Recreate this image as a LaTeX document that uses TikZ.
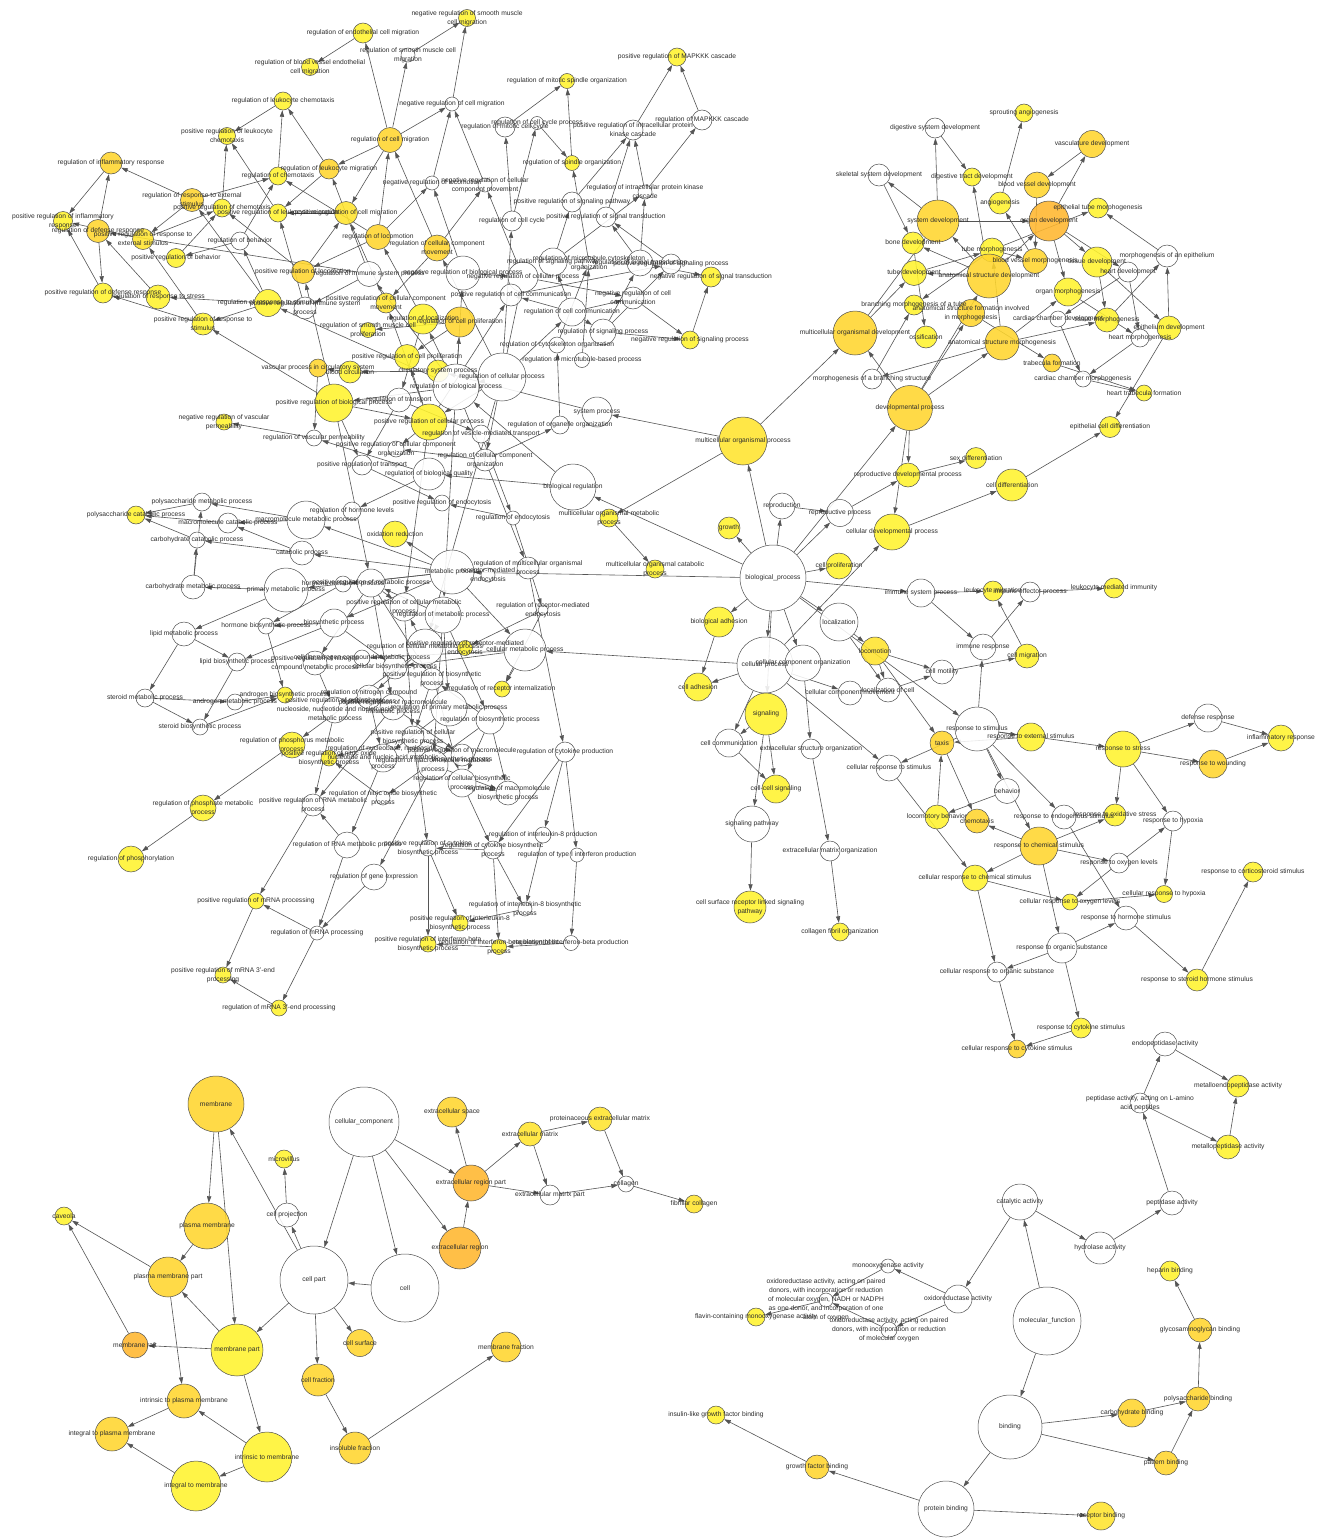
\documentclass[tikz,border=0pt]{standalone}
\usepackage{fontspec}
\setmainfont{Liberation Sans}
\usetikzlibrary{arrows.meta}
\pgfdeclarelayer{background}
\pgfdeclarelayer{fg}
\pgfsetlayers{background,main,fg}
\definecolor{yl1}{RGB}{255,243,46}
\definecolor{yl2}{RGB}{255,228,46}
\definecolor{yl3}{RGB}{255,214,46}
\definecolor{yl4}{RGB}{255,183,46}
\definecolor{wh}{RGB}{255,255,255}
\definecolor{edgec}{RGB}{85,85,85}
\definecolor{labc}{RGB}{45,45,45}
\definecolor{bordc}{RGB}{80,80,80}
\tikzset{
  gnode/.style={circle,draw=bordc,line width=0.5pt,inner sep=0pt,fill opacity=0.88},
  glab/.style={font=\fontsize{6.7}{9}\selectfont,text=labc,align=center,inner sep=0pt},
  edge/.style={draw=edgec,line width=0.6pt,-{Triangle[length=6.5pt,width=4.2pt]}}
}
\makeatletter
\newcommand\alllabels{}
\newcommand\addlab[1]{\g@addto@macro\alllabels{#1}}
\makeatother
\newcommand\gn[6]{\node[gnode,minimum size=#4pt,fill=#5] (#1) at (#2,#3) {};
  \addlab{\node[glab] at (#2,#3) {#6};}}
\begin{document}
\begin{tikzpicture}[x=1pt,y=-1pt]
\useasboundingbox (0,0) rectangle (1325,1539);
% ---------- cellular component
\gn{membrane}{216}{1104}{56}{yl3}{membrane}
\gn{cellcomp}{364}{1122}{70}{wh}{cellular\_component}
\gn{exspace}{452}{1112}{30}{yl3}{extracellular space}
\gn{exmatrix}{530}{1134}{24}{yl2}{extracellular matrix}
\gn{protexm}{600}{1119}{24}{yl2}{proteinaceous extracellular matrix}
\gn{microvillus}{284}{1159}{18}{yl1}{microvillus}
\gn{exregpart}{471}{1183}{36}{yl4}{extracellular region part}
\gn{exmpart}{550}{1195}{20}{wh}{extracellular matrix part}
\gn{collagen}{626}{1184}{16}{wh}{collagen}
\gn{fibcoll}{694}{1204}{18}{yl2}{fibrillar collagen}
\gn{caveola}{64}{1216}{18}{yl1}{caveola}
\gn{plasmamem}{207}{1226}{46}{yl3}{plasma membrane}
\gn{cellproj}{287}{1215}{24}{wh}{cell projection}
\gn{exregion}{460}{1248}{42}{yl4}{extracellular region}
\gn{pmpart}{168}{1277}{40}{yl3}{plasma membrane part}
\gn{cellpart}{314}{1280}{68}{wh}{cell part}
\gn{cell}{405}{1288}{68}{wh}{cell}
\gn{memraft}{135}{1345}{26}{yl4}{membrane raft}
\gn{mempart}{237}{1350}{52}{yl1}{membrane part}
\gn{cellsurf}{360}{1343}{27}{yl3}{cell surface}
\gn{memfrac}{506}{1347}{30}{yl3}{membrane fraction}
\gn{cellfrac}{318}{1380}{32}{yl3}{cell fraction}
\gn{intrpm}{184}{1401}{34}{yl3}{intrinsic to plasma membrane}
\gn{integpm}{112}{1434}{34}{yl3}{integral to plasma membrane}
\gn{intrmem}{267}{1457}{50}{yl1}{intrinsic to membrane}
\gn{insolfrac}{355}{1448}{32}{yl3}{insoluble fraction}
\gn{integmem}{196}{1486}{50}{yl1}{integral to membrane}
% ---------- molecular function
\gn{endopep}{1165}{1044}{24}{wh}{endopeptidase activity}
\gn{metalloendo}{1238}{1086}{22}{yl1}{metalloendopeptidase activity}
\gn{pepL}{1140}{1103}{20}{wh}{peptidase activity, acting on L-amino\\acid peptides}
\gn{metallopep}{1228}{1147}{24}{yl1}{metallopeptidase activity}
\gn{catalytic}{1020}{1202}{36}{wh}{catalytic activity}
\gn{peptidase}{1172}{1203}{24}{wh}{peptidase activity}
\gn{hydrolase}{1100}{1248}{32}{wh}{hydrolase activity}
\gn{monoox}{888}{1266}{14}{wh}{monooxygenase activity}
\gn{oxido}{958}{1299}{28}{wh}{oxidoreductase activity}
\gn{oxNADH}{826}{1300}{14}{wh}{oxidoreductase activity, acting on paired\\donors, with incorporation or reduction\\of molecular oxygen, NADH or NADPH\\as one donor, and incorporation of one\\atom of oxygen}
\gn{flavin}{756}{1317}{18}{yl1}{flavin-containing monooxygenase activity}
\gn{oxpaired}{889}{1330}{16}{wh}{oxidoreductase activity, acting on paired\\donors, with incorporation or reduction\\of molecular oxygen}
\gn{molfunc}{1047}{1321}{68}{wh}{molecular\_function}
\gn{heparin}{1170}{1271}{20}{yl1}{heparin binding}
\gn{gag}{1200}{1330}{24}{yl3}{glycosaminoglycan binding}
\gn{igfb}{716}{1415}{18}{yl1}{insulin-like growth factor binding}
\gn{binding}{1010}{1427}{64}{wh}{binding}
\gn{carbbind}{1132}{1413}{28}{yl3}{carbohydrate binding}
\gn{polysbind}{1198}{1399}{24}{yl3}{polysaccharide binding}
\gn{gfbind}{817}{1467}{24}{yl3}{growth factor binding}
\gn{patbind}{1166}{1463}{24}{yl3}{pattern binding}
\gn{protbind}{946}{1509}{56}{wh}{protein binding}
\gn{recbind}{1101}{1516}{28}{yl2}{receptor binding}
% ---------- response
\gn{bp}{773}{578}{66}{wh}{biological\_process}
\gn{immsys}{921}{593}{28}{wh}{immune system process}
\gn{leukmig}{993}{591}{20}{yl1}{leukocyte migration}
\gn{immeff}{1030}{592}{20}{wh}{immune effector process}
\gn{leukimm}{1114}{588}{20}{yl1}{leukocyte mediated immunity}
\gn{immresp}{983}{647}{26}{wh}{immune response}
\gn{cellmig}{1027}{656}{24}{yl1}{cell migration}
\gn{locomotion}{875}{651}{28}{yl2}{locomotion}
\gn{cellmot}{942}{672}{24}{wh}{cell motility}
\gn{loccell}{888}{690}{24}{wh}{localization of cell}
\gn{respstim}{977}{729}{44}{wh}{response to stimulus}
\gn{taxis}{942}{743}{24}{yl3}{taxis}
\gn{respext}{1031}{737}{28}{yl1}{response to external stimulus}
\gn{respstress}{1123}{749}{36}{yl1}{response to stress}
\gn{defresp}{1208}{718}{28}{wh}{defense response}
\gn{inflresp}{1281}{738}{26}{yl1}{inflammatory response}
\gn{respwound}{1213}{764}{28}{yl3}{response to wounding}
\gn{cellrespstim}{889}{768}{26}{wh}{cellular response to stimulus}
\gn{behavior}{1007}{791}{25}{wh}{behavior}
\gn{locbeh}{937}{817}{24}{yl1}{locomotory behavior}
\gn{chemotaxis}{977}{821}{24}{yl3}{chemotaxis}
\gn{respendo}{1064}{817}{24}{wh}{response to endogenous stimulus}
\gn{respox}{1115}{815}{22}{yl1}{response to oxidative stress}
\gn{resphyp}{1173}{821}{20}{wh}{response to hypoxia}
\gn{respchem}{1039}{846}{38}{yl3}{response to chemical stimulus}
\gn{respoxy}{1119}{863}{20}{wh}{response to oxygen levels}
\gn{cellrespchem}{975}{878}{26}{yl1}{cellular response to chemical stimulus}
\gn{respcort}{1253}{872}{20}{yl1}{response to corticosteroid stimulus}
\gn{cellresphyp}{1164}{894}{17}{yl1}{cellular response to hypoxia}
\gn{cellrespoxy}{1070}{902}{16}{yl1}{cellular response to oxygen levels}
\gn{resphorm}{1126}{918}{24}{wh}{response to hormone stimulus}
\gn{resporg}{1062}{948}{30}{wh}{response to organic substance}
\gn{cellresporg}{997}{972}{20}{wh}{cellular response to organic substance}
\gn{respster}{1197}{980}{22}{yl1}{response to steroid hormone stimulus}
\gn{respcyt}{1081}{1028}{20}{yl1}{response to cytokine stimulus}
\gn{cellrespcyt}{1017}{1049}{18}{yl3}{cellular response to cytokine stimulus}
% ---------- centre
\gn{multorgproc}{743}{441}{48}{yl2}{multicellular organismal process}
\gn{devproc}{910}{408}{45}{yl3}{developmental process}
\gn{sexdiff}{976}{458}{21}{yl1}{sex differentiation}
\gn{reprodev}{908}{475}{24}{yl1}{reproductive developmental process}
\gn{reproduction}{782}{506}{26}{wh}{reproduction}
\gn{reproproc}{840}{513}{27}{wh}{reproductive process}
\gn{celldevproc}{892}{532}{36}{yl1}{cellular developmental process}
\gn{celldiff}{1012}{485}{32}{yl1}{cell differentiation}
\gn{growth}{729}{528}{22}{yl1}{growth}
\gn{mometab}{609}{518}{18}{yl1}{multicellular organismal metabolic\\process}
\gn{cellprolif}{839}{566}{26}{yl1}{cell proliferation}
\gn{mocatab}{655}{569}{18}{yl1}{multicellular organismal catabolic\\process}
\gn{bioadh}{719}{622}{30}{yl1}{biological adhesion}
\gn{localization}{839}{622}{38}{wh}{localization}
\gn{cellproc}{765}{665}{56}{wh}{cellular process}
\gn{ccorg}{803}{663}{36}{wh}{cellular component organization}
\gn{ccmove}{850}{693}{24}{wh}{cellular component movement}
\gn{celladh}{698}{687}{28}{yl1}{cell adhesion}
\gn{signaling}{766}{714}{42}{yl1}{signaling}
\gn{cellcomm}{729}{743}{28}{wh}{cell communication}
\gn{exstructorg}{811}{749}{20}{wh}{extracellular structure organization}
\gn{cellcellsig}{776}{789}{28}{yl1}{cell-cell signaling}
\gn{sigpath}{752}{824}{36}{wh}{signaling pathway}
\gn{exmorg}{830}{851}{20}{wh}{extracellular matrix organization}
\gn{csrlsp}{750}{907}{32}{yl1}{cell surface receptor linked signaling\\pathway}
\gn{collfib}{840}{932}{18}{yl1}{collagen fibril organization}
% ---------- development
\gn{sprout}{1024}{113}{18}{yl1}{sprouting angiogenesis}
\gn{digsys}{935}{128}{20}{wh}{digestive system development}
\gn{vascdev}{1092}{144}{27}{yl3}{vasculature development}
\gn{skeldev}{879}{175}{22}{wh}{skeletal system development}
\gn{digtract}{972}{177}{18}{yl1}{digestive tract development}
\gn{bvdev}{1037}{185}{26}{yl3}{blood vessel development}
\gn{angio}{1000}{203}{22}{yl1}{angiogenesis}
\gn{eptubemorph}{1098}{208}{20}{yl1}{epithelial tube morphogenesis}
\gn{sysdev}{938}{221}{42}{yl3}{system development}
\gn{organdev}{1049}{221}{40}{yl4}{organ development}
\gn{bonedev}{913}{243}{22}{yl1}{bone development}
\gn{tubemorph}{992}{250}{24}{yl1}{tube morphogenesis}
\gn{bvmorph}{1035}{261}{25}{yl3}{blood vessel morphogenesis}
\gn{tissuedev}{1097}{262}{30}{yl1}{tissue development}
\gn{morphepi}{1167}{256}{22}{wh}{morphogenesis of an epithelium}
\gn{heartdev}{1128}{272}{20}{wh}{heart development}
\gn{tubedev}{914}{273}{25}{yl1}{tube development}
\gn{asdev}{989}{276}{44}{yl3}{anatomical structure development}
\gn{organmorph}{1068}{292}{28}{yl1}{organ morphogenesis}
\gn{branchtube}{914}{305}{20}{yl1}{branching morphogenesis of a tube}
\gn{asformation}{971}{313}{27}{yl3}{anatomical structure formation involved\\in morphogenesis}
\gn{ccdev}{1058}{319}{16}{wh}{cardiac chamber development}
\gn{tissuemorph}{1107}{320}{24}{yl1}{tissue morphogenesis}
\gn{epidev}{1169}{328}{24}{yl1}{epithelium development}
\gn{heartmorph}{1140}{338}{18}{wh}{heart morphogenesis}
\gn{multdev}{855}{333}{44}{yl3}{multicellular organismal development}
\gn{ossif}{926}{337}{22}{yl1}{ossification}
\gn{asmorph}{1002}{343}{34}{yl3}{anatomical structure morphogenesis}
\gn{trabform}{1052}{363}{18}{yl3}{trabecula formation}
\gn{morphbranch}{872}{379}{20}{wh}{morphogenesis of a branching structure}
\gn{ccmorph}{1083}{379}{16}{wh}{cardiac chamber morphogenesis}
\gn{hearttrab}{1144}{393}{16}{yl1}{heart trabecula formation}
\gn{epicelldiff}{1110}{427}{21}{yl1}{epithelial cell differentiation}
% ---------- regulation (top left)
\gn{regendo}{363}{33}{20}{yl1}{regulation of endothelial cell migration}
\gn{regbvendo}{310}{67}{17}{yl1}{regulation of blood vessel endothelial\\cell migration}
\gn{regsmcmig}{408}{55}{14}{wh}{regulation of smooth muscle cell\\migration}
\gn{negsmcmig}{467}{18}{17}{yl1}{negative regulation of smooth muscle\\cell migration}
\gn{regleukchem}{283}{101}{18}{yl1}{regulation of leukocyte chemotaxis}
\gn{posleukchem}{227}{136}{17}{yl1}{positive regulation of leukocyte\\chemotaxis}
\gn{regcellmig}{390}{140}{25}{yl3}{regulation of cell migration}
\gn{reginfl}{111}{163}{22}{yl3}{regulation of inflammatory response}
\gn{regleukmig}{329}{169}{20}{yl3}{regulation of leukocyte migration}
\gn{regchemo}{278}{176}{18}{yl1}{regulation of chemotaxis}
\gn{neglocom}{432}{183}{14}{wh}{negative regulation of locomotion}
\gn{regrespext}{192}{200}{23}{yl3}{regulation of response to external\\stimulus}
\gn{poschemo}{222}{208}{18}{yl1}{positive regulation of chemotaxis}
\gn{posleukmig}{278}{213}{18}{yl1}{positive regulation of leukocyte migration}
\gn{poscellmig}{346}{213}{23}{yl2}{positive regulation of cell migration}
\gn{posinfl}{63}{221}{19}{yl1}{positive regulation of inflammatory\\response}
\gn{regdef}{98}{231}{23}{yl3}{regulation of defense response}
\gn{posrespext}{143}{239}{21}{yl2}{positive regulation of response to\\external stimulus}
\gn{regbeh}{240}{241}{18}{wh}{regulation of behavior}
\gn{reglocom}{378}{237}{25}{yl3}{regulation of locomotion}
\gn{regccmove}{437}{248}{26}{yl3}{regulation of cellular component\\movement}
\gn{posbeh}{176}{258}{19}{yl1}{positive regulation of behavior}
\gn{poslocom}{303}{272}{23}{yl3}{positive regulation of locomotion}
\gn{regimm}{369}{274}{25}{wh}{regulation of immune system process}
\gn{posdef}{103}{293}{20}{yl1}{positive regulation of defense response}
\gn{regrespstress}{158}{297}{24}{yl1}{regulation of response to stress}
\gn{regrespstim}{268}{303}{27}{yl1}{regulation of response to stimulus}
\gn{posimm}{305}{308}{22}{wh}{positive regulation of immune system\\process}
\gn{posccmove}{386}{303}{20}{yl2}{positive regulation of cellular component\\movement}
\gn{posrespstim}{203}{324}{22}{yl1}{positive regulation of response to\\stimulus}
\gn{regloc}{423}{319}{30}{yl1}{regulation of localization}
\gn{regsmcprolif}{368}{330}{15}{yl1}{regulation of smooth muscle cell\\proliferation}
% ---------- signalling / cell cycle
\gn{negcellmig}{452}{104}{14}{wh}{negative regulation of cell migration}
\gn{regmitspindle}{567}{81}{15}{yl1}{regulation of mitotic spindle organization}
\gn{posmapk}{677}{57}{18}{yl1}{positive regulation of MAPKKK cascade}
\gn{regmitcc}{505}{127}{20}{wh}{regulation of mitotic cell cycle}
\gn{regccproc}{537}{123}{13}{wh}{regulation of cell cycle process}
\gn{posipkc}{633}{130}{20}{wh}{positive regulation of intracellular protein\\kinase cascade}
\gn{regmapk}{702}{120}{20}{wh}{regulation of MAPKKK cascade}
\gn{regspindle}{572}{163}{15}{yl1}{regulation of spindle organization}
\gn{negccmove}{485}{185}{14}{wh}{negative regulation of cellular\\component movement}
\gn{regipkc}{645}{192}{14}{wh}{regulation of intracellular protein kinase\\cascade}
\gn{possigpath}{572}{202}{20}{wh}{positive regulation of signaling pathway}
\gn{regcc}{512}{221}{20}{wh}{regulation of cell cycle}
\gn{possigtrans}{606}{217}{20}{wh}{positive regulation of signal transduction}
\gn{negbio}{463}{273}{34}{wh}{negative regulation of biological process}
\gn{regsigpath}{553}{262}{28}{wh}{regulation of signaling pathway}
\gn{regmtcyto}{589}{263}{13}{wh}{regulation of microtubule cytoskeleton\\organization}
\gn{regsigtrans}{640}{263}{26}{wh}{regulation of signal transduction}
\gn{possigproc}{671}{264}{20}{wh}{positive regulation of signaling process}
\gn{negsigtrans}{711}{277}{20}{yl1}{negative regulation of signal transduction}
\gn{negcellproc}{523}{277}{30}{wh}{negative regulation of cellular process}
\gn{poscellcomm}{511}{295}{22}{wh}{positive regulation of cell communication}
\gn{regcellcomm}{572}{312}{28}{wh}{regulation of cell communication}
\gn{negcellcomm}{633}{298}{22}{wh}{negative regulation of cell\\communication}
\gn{regsigproc}{603}{332}{26}{wh}{regulation of signaling process}
\gn{negsigproc}{690}{340}{18}{yl1}{negative regulation of signaling process}
\gn{regcellprolif}{460}{322}{30}{yl3}{regulation of cell proliferation}
% ---------- centre regulation
\gn{posprolif}{407}{357}{25}{yl1}{positive regulation of cell proliferation}
\gn{vascproc}{318}{368}{18}{yl3}{vascular process in circulatory system}
\gn{bloodcirc}{350}{372}{22}{yl1}{blood circulation}
\gn{circsys}{438}{371}{22}{yl1}{circulatory system process}
\gn{regcellproc}{502}{377}{48}{wh}{regulation of cellular process}
\gn{regbioproc}{456}{387}{46}{wh}{regulation of biological process}
\gn{posbioproc}{334}{403}{38}{yl1}{positive regulation of biological process}
\gn{regtransport}{399}{400}{24}{wh}{regulation of transport}
\gn{poscellproc}{429}{422}{36}{yl1}{positive regulation of cellular process}
\gn{regvascperm}{314}{438}{16}{wh}{regulation of vascular permeability}
\gn{negvascperm}{224}{422}{16}{yl1}{negative regulation of vascular\\permeability}
\gn{regvesicle}{481}{434}{18}{wh}{regulation of vesicle-mediated transport}
\gn{regcyto}{557}{345}{16}{wh}{regulation of cytoskeleton organization}
\gn{regmtb}{582}{360}{15}{wh}{regulation of microtubule-based process}
\gn{sysproc}{597}{412}{30}{wh}{system process}
\gn{regorganelle}{560}{425}{18}{wh}{regulation of organelle organization}
\gn{posccorg}{396}{449}{16}{wh}{positive regulation of cellular component\\organization}
\gn{postransport}{362}{465}{20}{wh}{positive regulation of transport}
\gn{regccorg}{485}{460}{22}{wh}{regulation of cellular component\\organization}
\gn{regbioqual}{429}{474}{32}{wh}{regulation of biological quality}
\gn{bioreg}{573}{487}{46}{wh}{biological regulation}
\gn{posendo}{442}{503}{16}{wh}{positive regulation of endocytosis}
\gn{reghorm}{352}{511}{18}{wh}{regulation of hormone levels}
\gn{regendocyt}{513}{518}{14}{wh}{regulation of endocytosis}
\gn{oxred}{395}{534}{26}{yl1}{oxidation reduction}
\gn{macromet}{306}{520}{38}{wh}{macromolecule metabolic process}
% ---------- metabolism
\gn{polysmet}{202}{502}{18}{wh}{polysaccharide metabolic process}
\gn{polyscat}{136}{515}{18}{yl1}{polysaccharide catabolic process}
\gn{macrocat}{228}{523}{20}{wh}{macromolecule catabolic process}
\gn{carbcat}{197}{540}{16}{wh}{carbohydrate catabolic process}
\gn{catab}{302}{553}{24}{wh}{catabolic process}
\gn{carbmet}{193}{587}{24}{wh}{carbohydrate metabolic process}
\gn{primmet}{286}{590}{44}{wh}{primary metabolic process}
\gn{hormmet}{343}{584}{16}{wh}{hormone metabolic process}
\gn{posmet}{371}{583}{28}{wh}{positive regulation of metabolic process}
\gn{hormbio}{266}{626}{16}{wh}{hormone biosynthetic process}
\gn{biosyn}{334}{623}{28}{wh}{biosynthetic process}
\gn{lipidmet}{184}{634}{24}{wh}{lipid metabolic process}
\gn{regmulti}{528}{568}{22}{wh}{regulation of multicellular organismal\\process}
\gn{metab}{452}{572}{44}{wh}{metabolic process}
\gn{rme}{488}{575}{14}{wh}{receptor-mediated\\endocytosis}
\gn{regrme}{543}{610}{10}{wh}{regulation of receptor-mediated\\endocytosis}
\gn{poscellmet}{404}{607}{28}{wh}{positive regulation of cellular metabolic\\process}
\gn{regmet}{443}{615}{36}{wh}{regulation of metabolic process}
\gn{posrme}{465}{648}{15}{yl1}{positive regulation of receptor-mediated\\endocytosis}
\gn{regcellmet}{425}{647}{36}{wh}{regulation of cellular metabolic process}
\gn{cellmet}{525}{650}{42}{wh}{cellular metabolic process}
\gn{regrecint}{502}{689}{16}{yl1}{regulation of receptor internalization}
\gn{lipidbio}{237}{662}{18}{wh}{lipid biosynthetic process}
\gn{posnitro}{315}{663}{24}{wh}{positive regulation of nitrogen\\compound metabolic process}
\gn{cellnitro}{362}{658}{16}{wh}{cellular nitrogen compound metabolic process}
\gn{cellbio}{395}{667}{24}{wh}{cellular biosynthetic process}
\gn{androbio}{285}{695}{16}{yl1}{androgen biosynthetic process}
\gn{andromet}{235}{702}{16}{wh}{androgen metabolic process}
\gn{steroidmet}{145}{698}{18}{wh}{steroid metabolic process}
\gn{steroidbio}{200}{727}{16}{wh}{steroid biosynthetic process}
\gn{posbiosyn}{432}{679}{22}{wh}{positive regulation of biosynthetic\\process}
\gn{regnitro}{369}{697}{24}{wh}{regulation of nitrogen compound\\metabolic process}
\gn{posnucl}{335}{710}{26}{wh}{positive regulation of nucleobase,\\nucleoside, nucleotide and nucleic acid\\metabolic process}
\gn{posmacromet}{393}{707}{26}{wh}{positive regulation of macromolecule\\metabolic process}
\gn{regprimmet}{449}{708}{36}{wh}{regulation of primary metabolic process}
\gn{regbiosyn}{490}{720}{28}{wh}{regulation of biosynthetic process}
\gn{regphosphorus}{292}{745}{26}{yl1}{regulation of phosphorus metabolic\\process}
\gn{posnitric}{329}{758}{16}{yl1}{positive regulation of nitric oxide\\biosynthetic process}
\gn{regnucl}{383}{758}{28}{wh}{regulation of nucleobase, nucleoside,\\nucleotide and nucleic acid metabolic\\process}
\gn{poscellbio}{413}{737}{22}{wh}{positive regulation of cellular\\biosynthetic process}
\gn{regmacromet}{433}{765}{30}{wh}{regulation of macromolecule metabolic\\process}
\gn{posmacrobio}{462}{755}{22}{wh}{positive regulation of macromolecule\\biosynthetic process}
\gn{regcellbio}{462}{783}{28}{wh}{regulation of cellular biosynthetic\\process}
\gn{regmacrobio}{508}{793}{24}{wh}{regulation of macromolecule\\biosynthetic process}
\gn{regnitric}{383}{798}{14}{wh}{regulation of nitric oxide biosynthetic\\process}
\gn{posrna}{313}{805}{22}{wh}{positive regulation of RNA metabolic\\process}
\gn{regcytprod}{565}{752}{20}{wh}{regulation of cytokine production}
\gn{regphosphate}{203}{808}{26}{yl1}{regulation of phosphate metabolic\\process}
\gn{regphosphoryl}{131}{859}{26}{yl1}{regulation of phosphorylation}
\gn{regrna}{347}{845}{26}{wh}{regulation of RNA metabolic process}
\gn{poscytbio}{428}{848}{16}{wh}{positive regulation of cytokine\\biosynthetic process}
\gn{regcytbio}{493}{850}{18}{wh}{regulation of cytokine biosynthetic\\process}
\gn{regil8prod}{543}{835}{16}{wh}{regulation of interleukin-8 production}
\gn{regtype1}{577}{855}{14}{wh}{regulation of type I interferon production}
\gn{reggene}{374}{877}{26}{wh}{regulation of gene expression}
\gn{posmrna}{256}{901}{16}{yl1}{positive regulation of mRNA processing}
\gn{regmrna}{317}{933}{14}{wh}{regulation of mRNA processing}
\gn{regil8bio}{525}{909}{14}{wh}{regulation of interleukin-8 biosynthetic\\process}
\gn{posil8bio}{460}{923}{16}{yl1}{positive regulation of interleukin-8\\biosynthetic process}
\gn{posifnb}{428}{944}{16}{yl1}{positive regulation of interferon-beta\\biosynthetic process}
\gn{regifnbbio}{499}{947}{15}{yl1}{regulation of interferon-beta biosynthetic\\process}
\gn{regifnbprod}{571}{943}{15}{wh}{regulation of interferon-beta production}
\gn{posmrna3}{223}{975}{16}{yl1}{positive regulation of mRNA 3'-end\\processing}
\gn{regmrna3}{279}{1008}{16}{yl1}{regulation of mRNA 3'-end processing}
% ================= edges
\begin{pgfonlayer}{background}
\fill[white] (0,0) rectangle (1325,1539);
\foreach \a/\b in {cellcomp/cellpart, cellcomp/cell, cellcomp/exregion, cellcomp/exregpart, cell/cellpart, cellpart/membrane, cellpart/cellproj, cellpart/mempart, cellpart/cellsurf, cellpart/cellfrac, membrane/plasmamem, membrane/mempart, plasmamem/pmpart, mempart/pmpart, mempart/memraft, mempart/intrmem, pmpart/caveola, pmpart/intrpm, memraft/caveola, cellproj/microvillus, intrmem/intrpm, intrmem/integmem, intrpm/integpm, integmem/integpm, cellfrac/insolfrac, insolfrac/memfrac, exregion/exregpart, exregpart/exspace, exregpart/exmatrix, exregpart/exmpart, exmatrix/protexm, exmatrix/exmpart, exmpart/collagen, protexm/collagen, collagen/fibcoll}
  \draw[edge] (\a) -- (\b);
\foreach \a/\b in {molfunc/catalytic, molfunc/binding, catalytic/oxido, catalytic/hydrolase, hydrolase/peptidase, peptidase/pepL, pepL/endopep, pepL/metallopep, endopep/metalloendo, metallopep/metalloendo, oxido/monoox, oxido/oxpaired, oxpaired/oxNADH, monoox/oxNADH, oxNADH/flavin, binding/carbbind, binding/patbind, binding/protbind, carbbind/polysbind, patbind/polysbind, polysbind/gag, gag/heparin, protbind/gfbind, protbind/recbind, gfbind/igfb}
  \draw[edge] (\a) -- (\b);
\foreach \a/\b in {bp/immsys, immsys/leukmig, immsys/immresp, immresp/immeff, immeff/leukimm, cellmig/leukmig, locomotion/cellmot, locomotion/loccell, locomotion/taxis, loccell/cellmot, cellmot/cellmig, respstim/immresp, respstim/respext, respstim/respstress, respext/taxis, respstim/behavior, respstim/respchem, respstim/respendo, respstim/cellrespstim, respstress/defresp, respstress/respwound, respstress/respox, respstress/resphyp, defresp/inflresp, respwound/inflresp, taxis/chemotaxis, locbeh/taxis, behavior/locbeh, respchem/chemotaxis, respchem/respox, respchem/respoxy, respchem/cellrespchem, respchem/resporg, respendo/resphorm, resphyp/cellresphyp, respoxy/resphyp, respoxy/cellrespoxy, cellrespchem/cellrespoxy, cellrespchem/cellresporg, cellrespstim/cellrespchem, cellrespoxy/cellresphyp, resporg/resphorm, resporg/cellresporg, resporg/respcyt, resphorm/respster, respster/respcort, cellresporg/cellrespcyt, respcyt/cellrespcyt, bp/respstim}
  \draw[edge] (\a) -- (\b);
\foreach \a/\b in {bp/multorgproc, bp/reproduction, bp/reproproc, bp/devproc, bp/growth, bp/cellprolif, bp/bioadh, bp/cellproc, bp/ccorg, bp/localization, bp/bioreg, bp/metab, bp/signaling, reproduction/reproproc, reproproc/reprodev, devproc/reprodev, devproc/celldevproc, reprodev/sexdiff, celldevproc/celldiff, celldiff/epicelldiff, multorgproc/mometab, multorgproc/sysproc, multorgproc/multdev, mometab/mocatab, bioadh/celladh, cellproc/celladh, cellproc/celldevproc, cellproc/cellcomm, cellproc/ccmove, cellproc/cellrespstim, cellproc/cellmet, localization/locomotion, localization/loccell, ccorg/exstructorg, exstructorg/exmorg, exmorg/collfib, signaling/cellcomm, signaling/cellcellsig, signaling/sigpath, cellcomm/cellcellsig, sigpath/csrlsp}
  \draw[edge] (\a) -- (\b);
\foreach \a/\b in {devproc/multdev, devproc/asdev, devproc/asmorph, devproc/asformation, multdev/tubedev, sysdev/skeldev, skeldev/bonedev, sysdev/digsys, digsys/digtract, asdev/digtract, angio/sprout, vascdev/bvdev, organdev/vascdev, sysdev/organdev, tubemorph/eptubemorph, morphepi/eptubemorph, bvdev/bvmorph, bvmorph/angio, asdev/sysdev, asdev/organdev, asdev/bonedev, asdev/tubedev, tubedev/tubemorph, tubemorph/branchtube, morphbranch/branchtube, asmorph/morphbranch, asmorph/tubemorph, asmorph/organmorph, asmorph/tissuemorph, asformation/trabform, trabform/hearttrab, organdev/organmorph, organdev/tissuedev, organdev/heartdev, tubemorph/bvmorph, tissuedev/epidev, tissuedev/tissuemorph, organmorph/heartmorph, heartdev/heartmorph, heartdev/ccdev, ccdev/ccmorph, heartmorph/ccmorph, ccmorph/hearttrab, tissuemorph/morphepi, epidev/morphepi, epidev/epicelldiff, bonedev/ossif, multdev/sysdev}
  \draw[edge] (\a) -- (\b);
\foreach \a/\b in {regendo/regbvendo, regcellmig/regendo, regcellmig/regsmcmig, regcellmig/negcellmig, regcellmig/regleukmig, regcellmig/poscellmig, regsmcmig/negsmcmig, negcellmig/negsmcmig, regleukchem/posleukchem, regchemo/regleukchem, regleukmig/regleukchem, regleukmig/posleukmig, poschemo/posleukchem, posleukmig/posleukchem, poscellmig/posleukmig, reglocom/regcellmig, reglocom/poslocom, reglocom/neglocom, reglocom/regchemo, regrespext/reginfl, regrespext/regchemo, regrespext/posrespext, regdef/reginfl, regdef/posdef, reginfl/posinfl, posrespext/poschemo, posrespext/posinfl, posdef/posinfl, regbeh/regchemo, regbeh/posbeh, posbeh/poschemo, poslocom/poscellmig, poslocom/poschemo, regrespstress/regdef, regrespstim/regrespstress, regrespstim/regrespext, regrespstim/posrespstim, regrespstim/regbeh, posrespstim/posdef, posrespstim/posrespext, regimm/posimm, regimm/regleukmig, regimm/regdef, posimm/posleukmig, regccmove/regcellmig, regccmove/posccmove, regccmove/negccmove, posccmove/poscellmig, negccmove/negcellmig, neglocom/negcellmig, regloc/reglocom, regloc/regtransport, posbioproc/posrespstim, posbioproc/poslocom}
  \draw[edge] (\a) -- (\b);
\foreach \a/\b in {regcc/regmitcc, regcc/regccproc, regmitcc/regmitspindle, regccproc/regspindle, regspindle/regmitspindle, regmapk/posmapk, posipkc/posmapk, regipkc/posipkc, regipkc/regmapk, possigpath/posipkc, possigtrans/posipkc, regsigpath/possigpath, regsigpath/regipkc, regsigtrans/possigtrans, regsigtrans/regipkc, regsigtrans/negsigtrans, possigproc/possigtrans, negsigproc/negsigtrans, regsigproc/regsigtrans, regsigproc/possigproc, regsigproc/negsigproc, regcellcomm/regsigproc, regcellcomm/poscellcomm, regcellcomm/negcellcomm, poscellcomm/possigproc, negcellcomm/negsigproc, regcellcomm/regsigpath, regmtcyto/regspindle}
  \draw[edge] (\a) -- (\b);
\foreach \a/\b in {bioreg/regbioproc, bioreg/regbioqual, regbioproc/regloc, regbioproc/regrespstim, regbioproc/regimm, regbioproc/posbioproc, regbioproc/negbio, regbioproc/regcellproc, regbioproc/regmet, regbioproc/regmulti, regbioproc/regcellprolif, regcellproc/poscellproc, regcellproc/regcellcomm, regcellproc/regcc, regcellproc/regccorg, regcellproc/regcellmet, regcellproc/negcellproc, regcellproc/regccmove, negbio/negcellproc, negbio/neglocom, negcellproc/negccmove, negcellproc/negcellcomm, posbioproc/poscellproc, posbioproc/postransport, posbioproc/posmet, vascproc/regvascperm, regbioqual/regvascperm, regvascperm/negvascperm, poscellproc/posprolif, poscellproc/posccorg, poscellproc/poscellcomm, poscellproc/poscellmet, poscellproc/posccmove, regcellprolif/posprolif, regcellprolif/regsmcprolif, regtransport/regvesicle, regtransport/postransport, postransport/posendo, regvesicle/regendocyt, regendocyt/posendo, regendocyt/regrme, regrme/regrecint, regrme/posrme, regccorg/regorganelle, regccorg/posccorg, regorganelle/regcyto, regcyto/regmtcyto, regmtb/regmtcyto, regbioqual/reghorm, sysproc/circsys, circsys/bloodcirc, bloodcirc/vascproc}
  \draw[edge] (\a) -- (\b);
\foreach \a/\b in {metab/macromet, metab/catab, metab/primmet, metab/oxred, metab/biosyn, metab/cellmet, metab/hormmet, macromet/macrocat, macromet/polysmet, catab/macrocat, catab/carbcat, carbmet/carbcat, carbmet/polysmet, primmet/carbmet, primmet/lipidmet, polysmet/polyscat, macrocat/polyscat, carbcat/polyscat, lipidmet/lipidbio, lipidmet/steroidmet, hormmet/hormbio, biosyn/hormbio, biosyn/lipidbio, biosyn/cellbio, hormbio/androbio, lipidbio/steroidbio, steroidmet/andromet, steroidmet/steroidbio, andromet/androbio, steroidbio/androbio, regmet/regcellmet, regmet/posmet, regmet/regmacromet, regmet/regbiosyn, regmet/regprimmet, posmet/poscellmet, posmet/posbiosyn, posmet/posmacromet, posmet/posnitro, regcellmet/regphosphorus, regcellmet/regnitro, regcellmet/regcellbio, regcellmet/poscellmet, regphosphorus/regphosphate, regphosphate/regphosphoryl, regbiosyn/regcellbio, regbiosyn/regnitric, regbiosyn/posbiosyn, regbiosyn/regmacrobio, regcellbio/regmacrobio, regcellbio/regcytbio, regmacromet/reggene, regmacromet/regmacrobio, regnitro/regnucl, regprimmet/regnucl, regnucl/regrna, posnitro/posnucl, posnucl/posrna, posmacromet/posrna, posmacromet/posmacrobio, regrna/posrna, regrna/regmrna, posrna/posmrna, reggene/regmrna, regmrna/posmrna, regmrna/regmrna3, posmrna/posmrna3, regmrna3/posmrna3, regcytprod/regcytbio, regcytprod/regil8prod, regcytprod/regtype1, regcytbio/poscytbio, regcytbio/regil8bio, regcytbio/regifnbbio, regil8prod/regil8bio, regtype1/regifnbprod, regifnbprod/regifnbbio, regifnbbio/posifnb, regil8bio/posil8bio, poscytbio/posifnb, poscytbio/posil8bio, regnitric/posnitric, regmulti/regcytprod, cellmet/cellbio, cellmet/cellnitro, poscellmet/poscellbio, posbiosyn/poscellbio, poscellbio/posmacrobio, poscellbio/poscytbio, poscellbio/posnitric, cellmet/regrecint}
  \draw[edge] (\a) -- (\b);
\end{pgfonlayer}
\begin{pgfonlayer}{fg}
\alllabels
\end{pgfonlayer}
\end{tikzpicture}
\end{document}
